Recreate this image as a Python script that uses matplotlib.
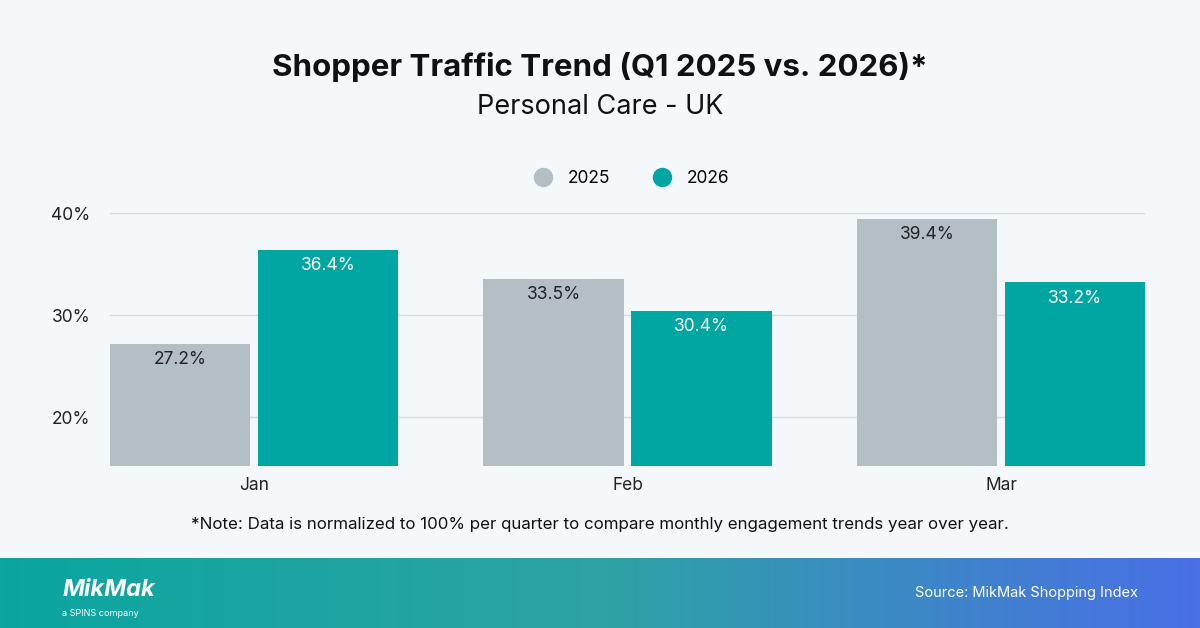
import numpy as np
import matplotlib.pyplot as plt
from matplotlib.colors import LinearSegmentedColormap
from matplotlib.lines import Line2D

plt.rcParams['font.family'] = ['Inter', 'DejaVu Sans']

months = ["Jan", "Feb", "Mar"]
vals_2025 = [27.2, 33.5, 39.4]
vals_2026 = [36.4, 30.4, 33.2]
yticks = [20, 30, 40]

BG = "#f4f8fb"
GRAY = "#b3bfc5"
TEAL = "#00a7a2"

fig = plt.figure(figsize=(12, 6.28), dpi=100)
fig.patch.set_facecolor(BG)

# footer band with gradient
fax = fig.add_axes([0, 0, 1, 70 / 628])
cmap = LinearSegmentedColormap.from_list("ft", ["#0ba6a0", "#2ea3a4", "#4a6fe6"])
grad = np.linspace(0, 1, 256)[None, :]
fax.imshow(grad, aspect="auto", cmap=cmap, extent=[0, 1, 0, 1])
fax.set_axis_off()
fax.text(0.052, 0.55, "MikMak", color="white", fontsize=17, fontweight="bold",
         fontstyle="italic", va="center", ha="left", transform=fax.transAxes)
fax.text(0.052, 0.2, "a SPINS company", color="white", fontsize=6.5,
         va="center", ha="left", transform=fax.transAxes)
fax.text(0.948, 0.5, "Source: MikMak Shopping Index", color="white", fontsize=10.5,
         va="center", ha="right", transform=fax.transAxes)

ax = fig.add_axes([110 / 1200, 1 - 466 / 628, 1035 / 1200, 253 / 628])
ax.set_facecolor(BG)
x = np.arange(len(months))
w = 0.375
off = 0.198
b1 = ax.bar(x - off, vals_2025, w, color=GRAY, zorder=3)
b2 = ax.bar(x + off, vals_2026, w, color=TEAL, zorder=3)
for bars, col in ((b1, "#222222"), (b2, "white")):
    for r in bars:
        h = r.get_height()
        ax.text(r.get_x() + r.get_width() / 2, h - 0.7, f"{h:.1f}%", ha="center",
                va="top", color=col, fontsize=12.5, zorder=4)

ax.set_ylim(15.2, 40)
ax.set_xlim(-0.385, 2.385)
ax.set_yticks(yticks)
ax.set_yticklabels([f"{t}%" for t in yticks])
ax.set_xticks(x)
ax.set_xticklabels(months)
ax.tick_params(axis="both", length=0, labelsize=12.5, colors="#222222")
ax.tick_params(axis="y", pad=14)
ax.tick_params(axis="x", pad=8)
ax.grid(axis="y", color="#d5dadd", linewidth=1, zorder=0)
for s in ax.spines.values():
    s.set_visible(False)

handles = [Line2D([], [], marker="o", ls="", markersize=13, color=c) for c in (GRAY, TEAL)]
ax.legend(handles, ["2025", "2026"], loc="lower center", bbox_to_anchor=(0.5, 1.04),
          ncol=2, frameon=False, fontsize=12.5, handletextpad=0.4, columnspacing=2.0)

fig.text(0.5, 1 - 67 / 628, "Shopper Traffic Trend (Q1 2025 vs. 2026)*", ha="center",
         va="center", fontsize=22.5, fontweight="bold", color="#111111")
fig.text(0.5, 1 - 107 / 628, "Personal Care - UK", ha="center", va="center",
         fontsize=19.5, color="#111111")
fig.text(0.5, 1 - 525 / 628,
         "*Note: Data is normalized to 100% per quarter to compare monthly engagement trends year over year.",
         ha="center", va="center", fontsize=12.2, color="#111111")

fig.savefig("out.png", dpi=100, facecolor=BG)
